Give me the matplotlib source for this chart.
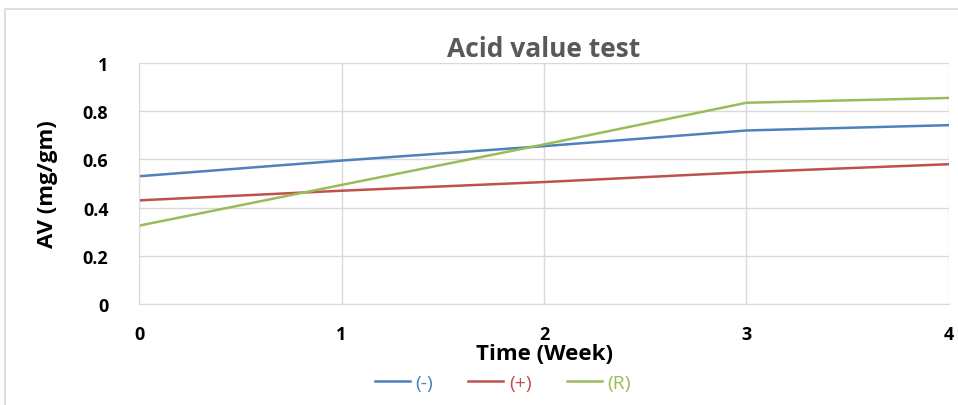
import matplotlib.pyplot as plt
from matplotlib.patches import Rectangle

weeks = [0, 1, 2, 3, 4]
neg = [0.53, 0.595, 0.655, 0.72, 0.742]
pos = [0.43, 0.47, 0.506, 0.547, 0.58]
ref = [0.325, 0.494, 0.662, 0.835, 0.855]
labels = ['(-)', '(+)', '(R)']
colors = ['#4F81BD', '#C0504D', '#9BBB59']

plt.rcParams['font.family'] = ['Open Sans', 'DejaVu Sans']

fig = plt.figure(figsize=(9.58, 4.06), dpi=100)
ax = fig.add_axes([0.1451, 0.2488, 0.8455, 0.5936])

# outer chart border
fig.patches.append(Rectangle((0.005, -0.01), 1.1, 0.985, transform=fig.transFigure,
                             fill=False, edgecolor='#d9d9d9', linewidth=1.2))

for vals, lab, c in zip([neg, pos, ref], labels, colors):
    ax.plot(weeks, vals, color=c, linewidth=1.8, label=lab)

ax.set_xlim(0, 4)
ax.set_ylim(0, 1)
ax.set_xticks(weeks)
ax.set_yticks([0, 0.2, 0.4, 0.6, 0.8, 1])
ax.set_yticklabels(['0', '0.2', '0.4', '0.6', '0.8', '1'])
ax.grid(True, color='#d9d9d9', linewidth=1)
ax.set_axisbelow(True)
for s in ['top', 'right']:
    ax.spines[s].set_visible(False)
for s in ['left', 'bottom']:
    ax.spines[s].set_color('#d9d9d9')
ax.tick_params(length=0, labelsize=13)
ax.tick_params(axis='x', pad=15)
ax.tick_params(axis='y', pad=22)
for t in ax.get_xticklabels() + ax.get_yticklabels():
    t.set_fontweight('bold')

ax.set_title('Acid value test', fontsize=19, fontweight='bold', color='#595959', pad=5)
ax.set_xlabel('Time (Week)', fontsize=16, fontweight='bold', labelpad=0)
ax.set_ylabel('AV (mg/gm)', fontsize=16, fontweight='bold', labelpad=18)

fig.legend(loc='center', bbox_to_anchor=(0.525, 0.055), ncol=3, frameon=False,
           fontsize=14, labelcolor='linecolor', handlelength=1.8, handletextpad=0.3,
           columnspacing=1.8)

fig.savefig('out.png', dpi=100)
